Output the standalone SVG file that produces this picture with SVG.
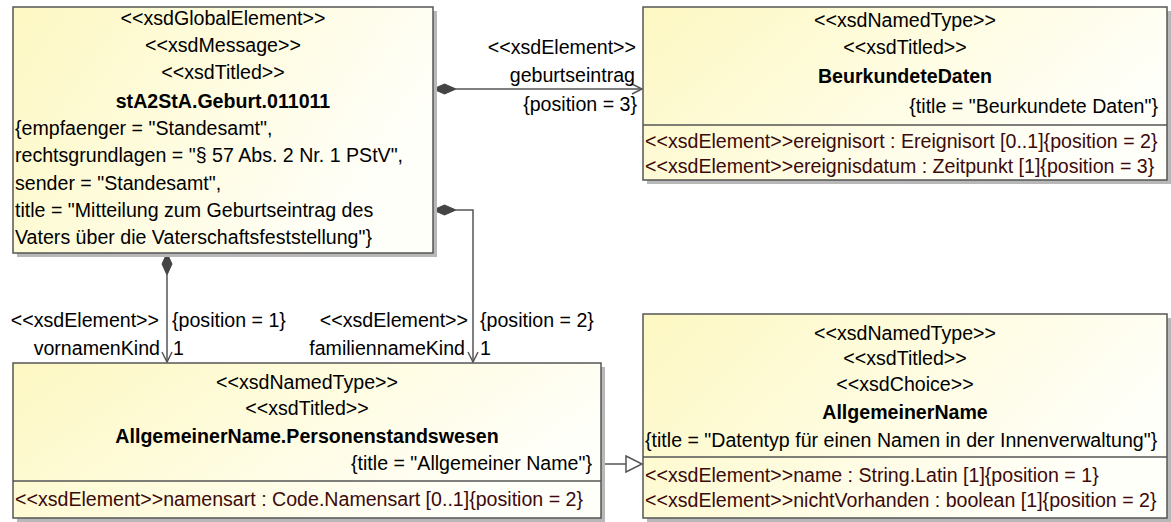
<svg xmlns="http://www.w3.org/2000/svg" width="1171" height="522" viewBox="0 0 1171 522">
<style>
text{font-family:"Liberation Sans",Arial,sans-serif;font-size:19.6px;fill:#000}
.b{font-weight:bold}
.m{text-anchor:middle}
.e{text-anchor:end}
.a{fill:#3c0a0a}
.box{fill:url(#g);stroke:#555;stroke-width:1.5}
.sh{fill:#b8b8b8}
.sep{stroke:#555;stroke-width:1.5}
.ln{fill:none;stroke:#555;stroke-width:1.5}
.dia{fill:#444;stroke:#444;stroke-width:1}
</style>
<defs>
<linearGradient id="g" x1="0" y1="0" x2="1" y2="0.4">
<stop offset="0" stop-color="#fdf8c2"/>
<stop offset="1" stop-color="#fffffa"/>
</linearGradient>
</defs>
<rect width="1171" height="522" fill="#fff"/>

<g id="connectors">
<g id="c-geburtseintrag">
<path class="dia" d="M433,89 L444.5,84 L456,89 L444.5,94 Z"/>
<path class="ln" d="M456,89 H642"/>
<path class="ln" d="M632,84 L642,89 L632,94"/>
<text class="e" x="636" y="54">&lt;&lt;xsdElement&gt;&gt;</text>
<text class="e" x="635" y="82">geburtseintrag</text>
<text class="e" x="637" y="111">{position = 3}</text>
</g>
<g id="c-familiennameKind">
<path class="dia" d="M433,210 L444.5,205 L456,210 L444.5,215 Z"/>
<path class="ln" d="M456,210 H473 V362"/>
<path class="ln" d="M468,352 L473,362 L478,352"/>
<text class="e" x="468" y="327">&lt;&lt;xsdElement&gt;&gt;</text>
<text x="480" y="327">{position = 2}</text>
<text class="e" x="465" y="355">familiennameKind</text>
<text x="480" y="355">1</text>
</g>
<g id="c-vornamenKind">
<path class="dia" d="M167,253 L172,264 L167,275 L162,264 Z"/>
<path class="ln" d="M167,275 V362"/>
<path class="ln" d="M162,352 L167,362 L172,352"/>
<text class="e" x="159" y="327">&lt;&lt;xsdElement&gt;&gt;</text>
<text x="172" y="327">{position = 1}</text>
<text class="e" x="160" y="355">vornamenKind</text>
<text x="173" y="355">1</text>
</g>
<g id="c-generalization">
<path class="ln" d="M601,464 H626"/>
<path d="M626,456 L642,464 L626,472 Z" fill="#fff" stroke="#555" stroke-width="1.5"/>
</g>
</g>

<g id="n-stA2StA">
<rect class="sh" x="17" y="11" width="420" height="246"/>
<rect class="box" x="13" y="7" width="420" height="246"/>
<text class="m" x="223" y="25">&lt;&lt;xsdGlobalElement&gt;&gt;</text>
<text class="m" x="223" y="52">&lt;&lt;xsdMessage&gt;&gt;</text>
<text class="m" x="223" y="79">&lt;&lt;xsdTitled&gt;&gt;</text>
<text class="m b" x="223" y="108">stA2StA.Geburt.011011</text>
<text x="15" y="135">{empfaenger = "Standesamt",</text>
<text x="15" y="162">rechtsgrundlagen = "§ 57 Abs. 2 Nr. 1 PStV",</text>
<text x="15" y="190">sender = "Standesamt",</text>
<text x="15" y="217">title = "Mitteilung zum Geburtseintrag des</text>
<text x="15" y="244">Vaters über die Vaterschaftsfeststellung"}</text>
</g>

<g id="n-BeurkundeteDaten">
<rect class="sh" x="647" y="11" width="524" height="173"/>
<rect class="box" x="643" y="7" width="524" height="173"/>
<line class="sep" x1="643" y1="125" x2="1167" y2="125"/>
<text class="m" x="905" y="27">&lt;&lt;xsdNamedType&gt;&gt;</text>
<text class="m" x="905" y="54">&lt;&lt;xsdTitled&gt;&gt;</text>
<text class="m b" x="905" y="83">BeurkundeteDaten</text>
<text class="e" x="1158" y="113">{title = "Beurkundete Daten"}</text>
<text class="a" x="645" y="148">&lt;&lt;xsdElement&gt;&gt;ereignisort : Ereignisort [0..1]{position = 2}</text>
<text class="a" x="645" y="173">&lt;&lt;xsdElement&gt;&gt;ereignisdatum : Zeitpunkt [1]{position = 3}</text>
</g>

<g id="n-AllgemeinerNamePersonenstandswesen">
<rect class="sh" x="17" y="367" width="588" height="155"/>
<rect class="box" x="13" y="363" width="588" height="155"/>
<line class="sep" x1="13" y1="481" x2="601" y2="481"/>
<text class="m" x="307" y="389">&lt;&lt;xsdNamedType&gt;&gt;</text>
<text class="m" x="307" y="415">&lt;&lt;xsdTitled&gt;&gt;</text>
<text class="m b" x="307" y="443">AllgemeinerName.Personenstandswesen</text>
<text class="e" x="592" y="470">{title = "Allgemeiner Name"}</text>
<text class="a" x="15" y="506">&lt;&lt;xsdElement&gt;&gt;namensart : Code.Namensart [0..1]{position = 2}</text>
</g>

<g id="n-AllgemeinerName">
<rect class="sh" x="647" y="318" width="524" height="204"/>
<rect class="box" x="643" y="314" width="524" height="204"/>
<line class="sep" x1="643" y1="457" x2="1167" y2="457"/>
<text class="m" x="905" y="340">&lt;&lt;xsdNamedType&gt;&gt;</text>
<text class="m" x="905" y="365">&lt;&lt;xsdTitled&gt;&gt;</text>
<text class="m" x="905" y="391">&lt;&lt;xsdChoice&gt;&gt;</text>
<text class="m b" x="905" y="419">AllgemeinerName</text>
<text x="645" y="447">{title = "Datentyp für einen Namen in der Innenverwaltung"}</text>
<text class="a" x="645" y="482">&lt;&lt;xsdElement&gt;&gt;name : String.Latin [1]{position = 1}</text>
<text class="a" x="645" y="507">&lt;&lt;xsdElement&gt;&gt;nichtVorhanden : boolean [1]{position = 2}</text>
</g>
</svg>
